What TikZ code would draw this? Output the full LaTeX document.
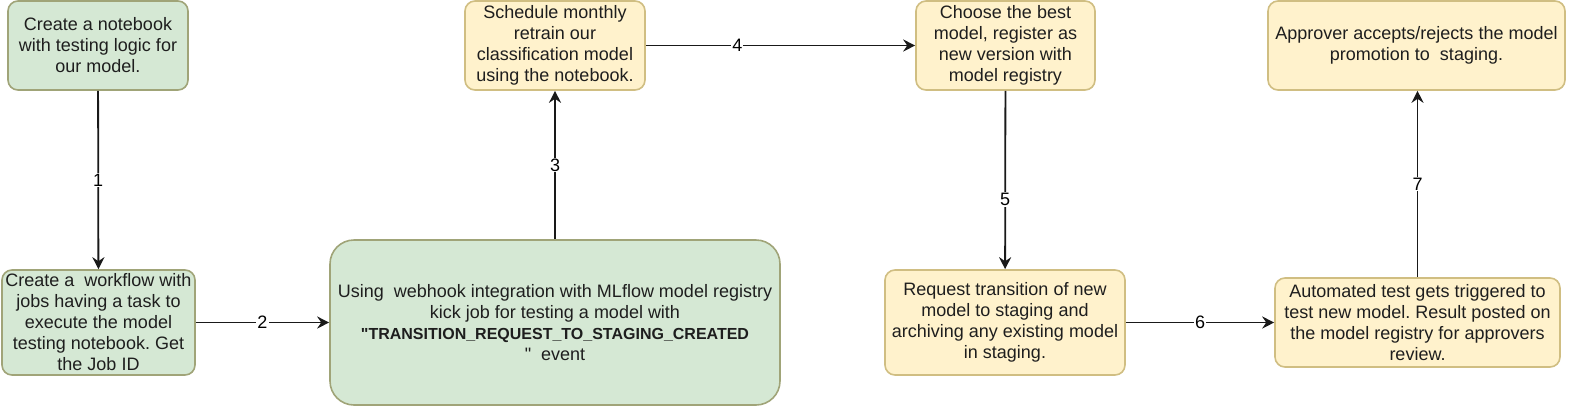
\documentclass[tikz,border=0pt]{standalone}
\usepackage{fontspec}
\setmainfont{Liberation Sans}
\newfontfamily\quotefont{Liberation Sans}
\usepackage{xcolor}
\definecolor{greenfill}{HTML}{D5E8D4}
\definecolor{greenline}{RGB}{160,164,120}
\definecolor{yellowfill}{HTML}{FFF2CC}
\definecolor{yellowline}{RGB}{208,190,130}
\definecolor{textgrey}{RGB}{30,30,30}
\usepackage{tikz}
\usetikzlibrary{arrows.meta, positioning}
\frenchspacing

\begin{document}
\begin{tikzpicture}[x=0.5pt, y=-0.5pt,
        block/.style={rectangle, rounded corners=5pt, align=center, inner sep=1pt, text=textgrey, font=\fontsize{9}{10.5}\selectfont, thick},
        greenblock/.style={block, draw=greenline, fill=greenfill},
        yellowblock/.style={block, draw=yellowline, fill=yellowfill},
        line/.style={draw=black!90, -{Stealth[length=6pt, width=6pt, inset=2pt]}, line width=0.9pt},
        num/.style={fill=white, inner sep=0.5pt, font=\fontsize{9}{10.5}\selectfont}]
        \useasboundingbox (0,0) rectangle (1569,408);

        % Columna izquierda (verde)
        \node [greenblock, minimum width=90pt, minimum height=44.5pt] (notebook) at (98,45.5) {Create a notebook\\with testing logic for\\our model.};
        \node [greenblock, minimum width=96.5pt, minimum height=52.5pt] (workflow) at (98.5,322.5) {Create a \ workflow with\\jobs having a task to\\execute the model\\testing notebook. Get\\the Job ID};
        \node [greenblock, rounded corners=12pt, minimum width=225pt, minimum height=82.5pt] (webhook) at (555,322.5) {Using \ webhook integration with MLflow model registry\\kick job for testing a model with\\{\fontsize{8}{10.5}\selectfont\bfseries{\quotefont"}TRANSITION\_REQUEST\_TO\_STAGING\_CREATED}\\{\quotefont"} \ event};

        % Fila superior y derecha (amarillo)
        \node [yellowblock, minimum width=90pt, minimum height=44.5pt] (retrain) at (555,45.5) {Schedule monthly\\retrain our\\classification model\\using the notebook.};
        \node [yellowblock, minimum width=89.5pt, minimum height=44.5pt] (register) at (1005.5,45.5) {Choose the best\\model, register as\\new version with\\model registry};
        \node [yellowblock, minimum width=120pt, minimum height=52.5pt] (request) at (1005,322.5) {Request transition of new\\model to staging and\\archiving any existing model\\in staging.};
        \node [yellowblock, minimum width=142.5pt, minimum height=44.5pt] (autotest) at (1417.5,322.5) {Automated test gets triggered to\\test new model. Result posted on\\the model registry for approvers\\review.};
        \node [yellowblock, minimum width=148.5pt, minimum height=44.5pt] (approver) at (1416.5,45.5) {Approver accepts/rejects the model\\promotion to \ staging.};

        \path [line] (notebook) -- node [num, pos=0.5] {1} (workflow);
        \path [line] (workflow) -- node [num, pos=0.5] {2} (webhook);
        \path [line] (webhook) -- node [num, pos=0.5] {3} (retrain);
        \path [line] (retrain) -- node [num, pos=0.34] {4} (register);
        \path [line] (register) -- node [num, pos=0.61] {5} (request);
        \path [line] (request) -- node [num, pos=0.5] {6} (autotest);
        \path [line] (autotest.north) -- node [num, pos=0.5] {7} (autotest.north |- approver.south);
    \end{tikzpicture}
\end{document}
